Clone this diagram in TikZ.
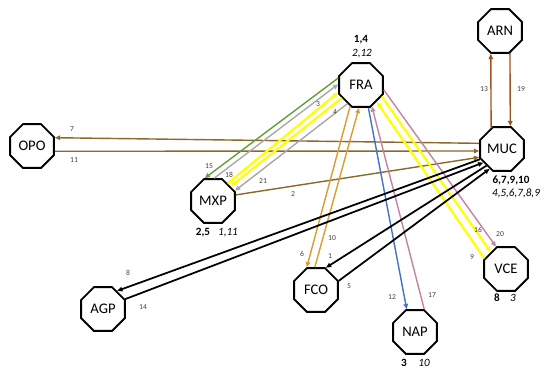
\documentclass[tikz,border=0pt]{standalone}
\usepackage{fontspec}
\setmainfont{Carlito}
\usetikzlibrary{shapes.geometric,arrows.meta}

\definecolor{olivebrown}{RGB}{139,105,42}
\definecolor{rustbrown}{RGB}{158,84,34}
\definecolor{goldline}{RGB}{214,158,46}
\definecolor{greenline}{RGB}{98,158,58}
\definecolor{grayline}{RGB}{168,168,168}
\definecolor{yellowline}{RGB}{255,255,0}
\definecolor{blueline}{RGB}{68,114,196}
\definecolor{pinkline}{RGB}{194,132,160}

\tikzset{
  apt/.style={regular polygon, regular polygon sides=8, draw, line width=1.6pt,
    minimum size=1.42cm, inner sep=0pt, font=\fontsize{12.5}{14}\selectfont},
  flight/.style={line width=1.2pt, -{Triangle[length=4.5pt,width=3.8pt]}},
  hiflight/.style={flight, yellowline, line width=1.9pt},
  blackflight/.style={flight, line width=1.5pt},
  flab/.style={font=\fontsize{6.5}{7}\selectfont, text=black!75, inner sep=0pt},
  crewb/.style={font=\bfseries\fontsize{9.5}{11}\selectfont, inner sep=0pt},
  crewi/.style={font=\itshape\fontsize{9.5}{11}\selectfont, inner sep=0pt}
}

\begin{document}
\begin{tikzpicture}[x=0.3mm, y=-0.3mm]
    \useasboundingbox (0,0) rectangle (550,375);
    % airports
    \node[apt] (ARN) at (500,31) {ARN};
    \node[apt] (FRA) at (361,85) {FRA};
    \node[apt] (OPO) at (32,146) {OPO};
    \node[apt] (MUC) at (502,149) {MUC};
    \node[apt] (MXP) at (213,201) {MXP};
    \node[apt] (AGP) at (103,309) {AGP};
    \node[apt] (FCO) at (316,290) {FCO};
    \node[apt] (NAP) at (415,332) {NAP};
    \node[apt] (VCE) at (506,269) {VCE};
    % crews at the airports
    \node[crewb] (FRAb) at (361,40) {1,4};
    \node[crewi] (FRAi) at (362,54) {2,12};
    \node[crewb] (MUCb) at (511,180) {6,7,9,10};
    \node[crewi] (MUCi) at (516,193) {4,5,6,7,8,9};
    \node[crewb] (MXPb) at (203,233) {2,5};
    \node[crewi] (MXPi) at (228,233) {1,11};
    \node[crewb] (VCEb) at (497,298) {8};
    \node[crewi] (VCEi) at (513,298) {3};
    \node[crewb] (NAPb) at (404,363) {3};
    \node[crewi] (NAPi) at (424,363) {10};
    % flights from and to MUC
    \draw[flight, rustbrown] (MUC.117) -- (ARN.248);
    \draw[flight, rustbrown] (ARN.294) -- (MUC.70);
    \draw[flight, olivebrown] (MUC.166) -- (OPO.20);
    \draw[flight, olivebrown] (OPO.347) -- (MUC.185);
    \draw[flight, olivebrown] (MXP.15) -- (MUC.200);
    % flights from and to FRA
    \draw[flight, greenline] (FRA.163) -- (MXP.110);
    \draw[flight, grayline] (MXP.87) -- (FRA.178);
    \draw[hiflight] (MXP.50) -- (FRA.198);
    \draw[hiflight] (FRA.214) -- (MXP.40);
    \draw[flight, grayline] (FRA.234) -- (MXP.25);
    \draw[flight, goldline] (FRA.243) -- (FCO.112);
    \draw[flight, goldline] (FCO.93) -- (FRA.265);
    \draw[flight, blueline] (FRA.288) -- (NAP.110);
    \draw[flight, pinkline] (NAP.68) -- (FRA.297);
    \draw[hiflight] (VCE.154) -- (FRA.313);
    \draw[hiflight] (FRA.331) -- (VCE.132);
    \draw[flight, pinkline] (FRA.348) -- (VCE.114);
    % black flights
    \draw[blackflight] (MUC.205) -- (AGP.52);
    \draw[blackflight] (AGP.24) -- (MUC.216);
    \draw[blackflight] (MUC.227) -- (FCO.66);
    \draw[blackflight] (FCO.22) -- (MUC.238);
    % flight numbers
    \node[flab] (l1) at (330,256) {1};
    \node[flab] (l2) at (293,194) {2};
    \node[flab] (l3) at (318,104) {3};
    \node[flab] (l4) at (335,112) {4};
    \node[flab] (l5) at (349,286) {5};
    \node[flab] (l6) at (302,254) {6};
    \node[flab] (l7) at (72,129) {7};
    \node[flab] (l8) at (128,273) {8};
    \node[flab] (l9) at (472,257) {9};
    \node[flab] (l10) at (332,238) {10};
    \node[flab] (l11) at (74,160) {11};
    \node[flab] (l12) at (392,297) {12};
    \node[flab] (l13) at (484,89) {13};
    \node[flab] (l14) at (143,307) {14};
    \node[flab] (l15) at (209,166) {15};
    \node[flab] (l16) at (478,230) {16};
    \node[flab] (l17) at (432,295) {17};
    \node[flab] (l18) at (229,175) {18};
    \node[flab] (l19) at (521,89) {19};
    \node[flab] (l20) at (500,234) {20};
    \node[flab] (l21) at (263,181) {21};
\end{tikzpicture}
\end{document}
